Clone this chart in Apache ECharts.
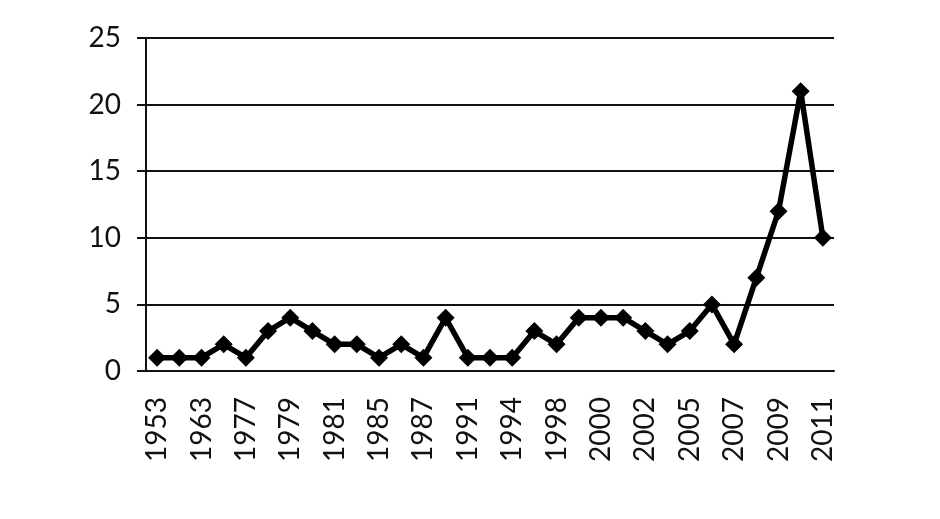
<!DOCTYPE html>
<html>
<head>
<meta charset="utf-8">
<script src="https://cdn.jsdelivr.net/npm/echarts@6/dist/echarts.min.js"></script>
<style>html,body{margin:0;padding:0;background:#fff;}#c{width:940px;height:519px;}</style>
</head>
<body>
<div id="c"></div>
<script>
const years = ['1953','1958','1963','1970','1977','1978','1979','1980','1981','1983','1985','1986','1987','1989','1991','1992','1994','1996','1998','1999','2000','2001','2002','2004','2005','2006','2007','2008','2009','2010','2011'];
const counts = [1,1,1,2,1,3,4,3,2,2,1,2,1,4,1,1,1,3,2,4,4,4,3,2,3,5,2,7,12,21,10];
const yTicks = [0,5,10,15,20,25];

const chart = echarts.init(document.getElementById('c'));
chart.setOption({
  animation: false,
  grid: {left: 146, right: 106, top: 38, bottom: 148},
  xAxis: {
    type: 'category',
    data: years,
    boundaryGap: true,
    axisLine: {lineStyle: {color: '#111', width: 2}},
    axisTick: {interval: 1, length: 12, lineStyle: {color: '#111', width: 2}},
    axisLabel: {interval: 1, rotate: 90, color: '#111', fontSize: 28, fontFamily: 'Lato', margin: 26}
  },
  yAxis: {
    type: 'value',
    min: yTicks[0], max: yTicks[yTicks.length-1], interval: 5,
    axisLine: {show: true, lineStyle: {color: '#111', width: 2}},
    axisTick: {show: true, length: 9, lineStyle: {color: '#111', width: 2}},
    axisLabel: {color: '#111', fontSize: 28, fontFamily: 'Lato', margin: 25},
    splitLine: {lineStyle: {color: '#111', width: 2}}
  },
  series: [{
    type: 'line',
    data: counts,
    symbol: 'diamond',
    symbolSize: 18,
    showAllSymbol: true,
    lineStyle: {color: '#000', width: 5.5},
    itemStyle: {color: '#000'}
  }]
});
</script>
</body>
</html>
